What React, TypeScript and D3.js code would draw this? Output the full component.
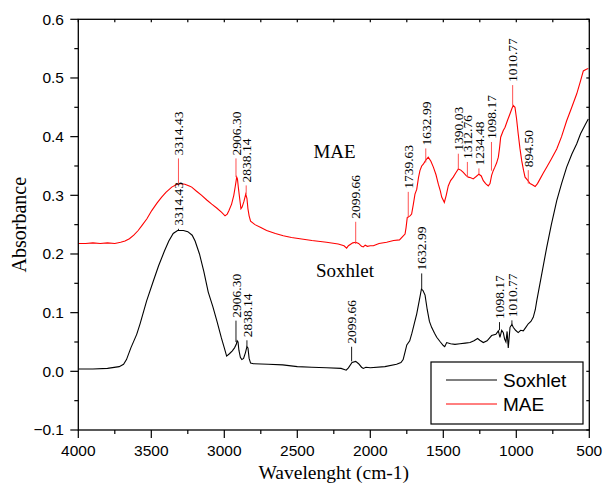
import React from "react";
import * as d3 from "d3";

// ---------- data ----------
const soxWn = [4000,3900,3800,3720,3690,3670,3640,3600,3577,3532,3486,3450,3410,3380,3350,3320,3280,3250,3220,3200,3170,3140,3110,3078,3050,3020,3000,2984,2965,2945,2930,2918,2912,2906,2900,2890,2880,2868,2855,2845,2838,2830,2820,2800,2700,2600,2500,2400,2300,2200,2165,2150,2125,2100,2080,2060,2048,2030,2000,1900,1820,1790,1775,1760,1750,1730,1715,1700,1682,1665,1650,1640,1625,1610,1595,1580,1560,1545,1520,1500,1490,1477,1450,1420,1386,1350,1317,1290,1265,1250,1226,1200,1169,1140,1123,1112,1100,1089,1080,1071,1063,1055,1048,1043,1030,1021,1005,987,970,952,935,918,900,884,870,860,830,792,760,723,690,655,620,586,560,529,507];
const soxAbs = [0.004,0.004,0.005,0.008,0.012,0.02,0.04,0.063,0.081,0.12,0.154,0.18,0.205,0.222,0.235,0.24,0.24,0.238,0.232,0.222,0.2,0.17,0.135,0.11,0.085,0.057,0.04,0.026,0.03,0.035,0.04,0.046,0.052,0.05,0.036,0.024,0.02,0.022,0.032,0.042,0.04,0.022,0.014,0.013,0.012,0.011,0.008,0.007,0.006,0.005,0.002,0.006,0.015,0.017,0.013,0.007,0.005,0.007,0.006,0.008,0.012,0.015,0.02,0.035,0.045,0.052,0.065,0.08,0.098,0.12,0.14,0.138,0.13,0.105,0.085,0.075,0.065,0.058,0.05,0.044,0.042,0.049,0.047,0.046,0.047,0.048,0.049,0.052,0.056,0.053,0.049,0.052,0.061,0.063,0.069,0.058,0.07,0.066,0.055,0.05,0.068,0.04,0.06,0.075,0.08,0.075,0.07,0.066,0.07,0.069,0.075,0.081,0.085,0.092,0.105,0.12,0.16,0.211,0.25,0.291,0.32,0.348,0.37,0.388,0.405,0.42,0.43];

const maeWn = [4000,3950,3900,3850,3800,3750,3710,3680,3650,3620,3590,3566,3530,3497,3460,3429,3400,3360,3330,3300,3270,3240,3223,3190,3155,3120,3086,3050,3018,2995,2980,2968,2950,2935,2925,2915,2910,2904,2895,2886,2878,2865,2853,2845,2838,2830,2820,2790,2750,2710,2650,2596,2540,2482,2400,2300,2220,2180,2162,2150,2120,2100,2080,2060,2048,2035,2020,2000,1979,1940,1888,1840,1800,1774,1762,1755,1747,1728,1717,1705,1694,1682,1670,1660,1648,1637,1620,1603,1585,1568,1550,1534,1520,1511,1493,1480,1466,1450,1432,1415,1397,1380,1363,1345,1329,1312,1295,1275,1256,1240,1226,1210,1192,1180,1169,1158,1147,1135,1123,1115,1107,1090,1077,1060,1043,1030,1021,1009,998,987,975,963,950,940,920,906,890,871,855,837,815,792,760,723,690,655,620,586,560,541,520,507];
const maeAbs = [0.218,0.218,0.219,0.218,0.219,0.218,0.22,0.222,0.226,0.232,0.24,0.248,0.26,0.274,0.287,0.297,0.305,0.314,0.318,0.32,0.319,0.316,0.314,0.307,0.3,0.292,0.285,0.278,0.271,0.265,0.268,0.274,0.285,0.3,0.315,0.331,0.328,0.314,0.295,0.277,0.28,0.29,0.302,0.295,0.277,0.265,0.256,0.25,0.245,0.24,0.235,0.231,0.228,0.226,0.223,0.22,0.217,0.214,0.21,0.214,0.219,0.22,0.218,0.213,0.212,0.215,0.213,0.214,0.214,0.218,0.22,0.223,0.224,0.231,0.234,0.245,0.262,0.265,0.268,0.285,0.302,0.31,0.33,0.342,0.35,0.353,0.36,0.365,0.358,0.348,0.335,0.319,0.307,0.297,0.288,0.3,0.316,0.325,0.331,0.338,0.345,0.343,0.339,0.334,0.331,0.33,0.328,0.332,0.336,0.333,0.325,0.32,0.316,0.32,0.334,0.342,0.348,0.355,0.365,0.38,0.399,0.41,0.416,0.428,0.439,0.448,0.453,0.45,0.43,0.405,0.38,0.359,0.342,0.331,0.325,0.32,0.318,0.315,0.32,0.328,0.338,0.348,0.362,0.379,0.4,0.427,0.45,0.473,0.495,0.512,0.515,0.516];

// peak annotations: label, wavenumber position, text-bottom absorbance, peak absorbance
const maeLabels = ["3314.43","2906.30","2838.14","2099.66","1739.63","1632.99","1390.03","1312.76","1234.48","1098.17","1010.77","894.50"];
const maeLabelPos = [3314,2920,2850,2100,1740,1620,1397,1335,1256,1170,1025,918];
const maeLabelTop = [0.368,0.368,0.322,0.26,0.311,0.385,0.376,0.362,0.351,0.396,0.493,0.348];
const maeLabelPeak = [0.32,0.331,0.302,0.217,0.262,0.356,0.345,0.331,0.336,0.342,0.453,0.32];

const soxLabels = ["3314.43","2906.30","2838.14","2099.66","1632.99","1098.17","1010.77"];
const soxLabelPos = [3314,2920,2845,2128,1648,1115,1030];
const soxLabelTop = [0.248,0.0915,0.058,0.047,0.172,0.089,0.092];
const soxLabelPeak = [0.24,0.05,0.042,0.017,0.14,0.07,0.08];

const xTicks = [4000,3500,3000,2500,2000,1500,1000,500];
const yTicks = [-0.1,0.0,0.1,0.2,0.3,0.4,0.5,0.6];
const seriesNames = ["Soxhlet","MAE"];

// ---------- layout ----------
const W = 603, H = 492;
const L = 78.3, R = 589.3, T = 19.3, B = 430;
const x = d3.scaleLinear().domain([4000, 500]).range([L, R]);
const y = d3.scaleLinear().domain([-0.1, 0.6]).range([B, T]);

const SERIF = "'Liberation Serif','Times New Roman',serif";
const SANS = "'Liberation Sans',Arial,sans-serif";

function Annot({ labels, pos, top, peak, color, lineColor }: any) {
  return (
    <g>
      {labels.map((lab: string, i: number) => {
        const px = x(pos[i]);
        const ty = y(top[i]);
        const py = y(peak[i]);
        return (
          <g key={lab + i}>
            <line x1={px} x2={px} y1={Math.min(ty + 3, py)} y2={py} stroke={lineColor} strokeWidth={0.9} />
            <text transform={`translate(${px},${ty}) rotate(-90)`} dy="0.35em" fontFamily={SERIF} fontSize={13.5} fill={color}>
              {lab}
            </text>
          </g>
        );
      })}
    </g>
  );
}

export default function App() {
  const soxPath = d3.line<number>().x((_, i) => x(soxWn[i])).y((d) => y(d))(soxAbs) || "";
  const maePath = d3.line<number>().x((_, i) => x(maeWn[i])).y((d) => y(d))(maeAbs) || "";

  const minorX = d3.range(4000, 499, -250);
  const minorY = d3.range(-0.1, 0.6001, 0.05);

  return (
    <svg width={W} height={H} style={{ position: "absolute", left: 0, top: 0, background: "#fff" }}>
      <rect x={0} y={0} width={W} height={H} fill="#fff" />
      {/* curves */}
      <path d={maePath} fill="none" stroke="#ff0000" strokeWidth={1.1} />
      <path d={soxPath} fill="none" stroke="#000" strokeWidth={1.1} />

      <Annot labels={maeLabels} pos={maeLabelPos} top={maeLabelTop} peak={maeLabelPeak} color="#000" lineColor="#ff4040" />
      <Annot labels={soxLabels} pos={soxLabelPos} top={soxLabelTop} peak={soxLabelPeak} color="#000" lineColor="#000" />

      <text x={x(2245)} y={y(0.364)} textAnchor="middle" fontFamily={SERIF} fontSize={19}>MAE</text>
      <text x={x(2173)} y={y(0.16)} textAnchor="middle" fontFamily={SERIF} fontSize={19}>Soxhlet</text>

      {/* frame */}
      <rect x={L} y={T} width={R - L} height={B - T} fill="none" stroke="#000" strokeWidth={1.3} />

      {/* bottom / top ticks */}
      {minorX.map((v) => {
        const major = v % 500 === 0;
        return (
          <g key={"bx" + v}>
            <line x1={x(v)} x2={x(v)} y1={B} y2={B + (major ? 8 : 4)} stroke="#000" strokeWidth={1.2} />
            <line x1={x(v)} x2={x(v)} y1={T} y2={T + 3} stroke="#000" strokeWidth={1.2} />
          </g>
        );
      })}
      {xTicks.map((v) => (
        <text key={"xl" + v} x={x(v)} y={B + 26} textAnchor="middle" fontFamily={SANS} fontSize={15.5}>
          {v}
        </text>
      ))}

      {/* left / right ticks */}
      {minorY.map((v, i) => {
        const major = i % 2 === 0;
        return (
          <g key={"ly" + i}>
            <line x1={L} x2={L - (major ? 8 : 4)} y1={y(v)} y2={y(v)} stroke="#000" strokeWidth={1.2} />
            <line x1={R} x2={R - 3} y1={y(v)} y2={y(v)} stroke="#000" strokeWidth={1.2} />
          </g>
        );
      })}
      {yTicks.map((v) => (
        <text key={"yl" + v} x={64} y={y(v)} dy="0.35em" textAnchor="end" fontFamily={SANS} fontSize={15.5}>
          {d3.format(".1f")(v)}
        </text>
      ))}

      {/* axis titles */}
      <text transform={`translate(${26},${(T + B) / 2}) rotate(-90)`} textAnchor="middle" fontFamily={SERIF} fontSize={20}>
        Absorbance
      </text>
      <text x={(L + R) / 2} y={479} textAnchor="middle" fontFamily={SERIF} fontSize={19.5}>
        Wavelenght (cm-1)
      </text>

      {/* legend */}
      <g>
        <rect x={431} y={362} width={152} height={62} fill="#fff" stroke="#000" strokeWidth={1.2} />
        {seriesNames.map((n, i) => (
          <g key={n}>
            <line x1={446} x2={497} y1={380 + i * 24} y2={380 + i * 24} stroke={i === 0 ? "#000" : "#ff0000"} strokeWidth={1} />
            <text x={503} y={387 + i * 24} fontFamily={SANS} fontSize={19}>{n}</text>
          </g>
        ))}
      </g>
    </svg>
  );
}
